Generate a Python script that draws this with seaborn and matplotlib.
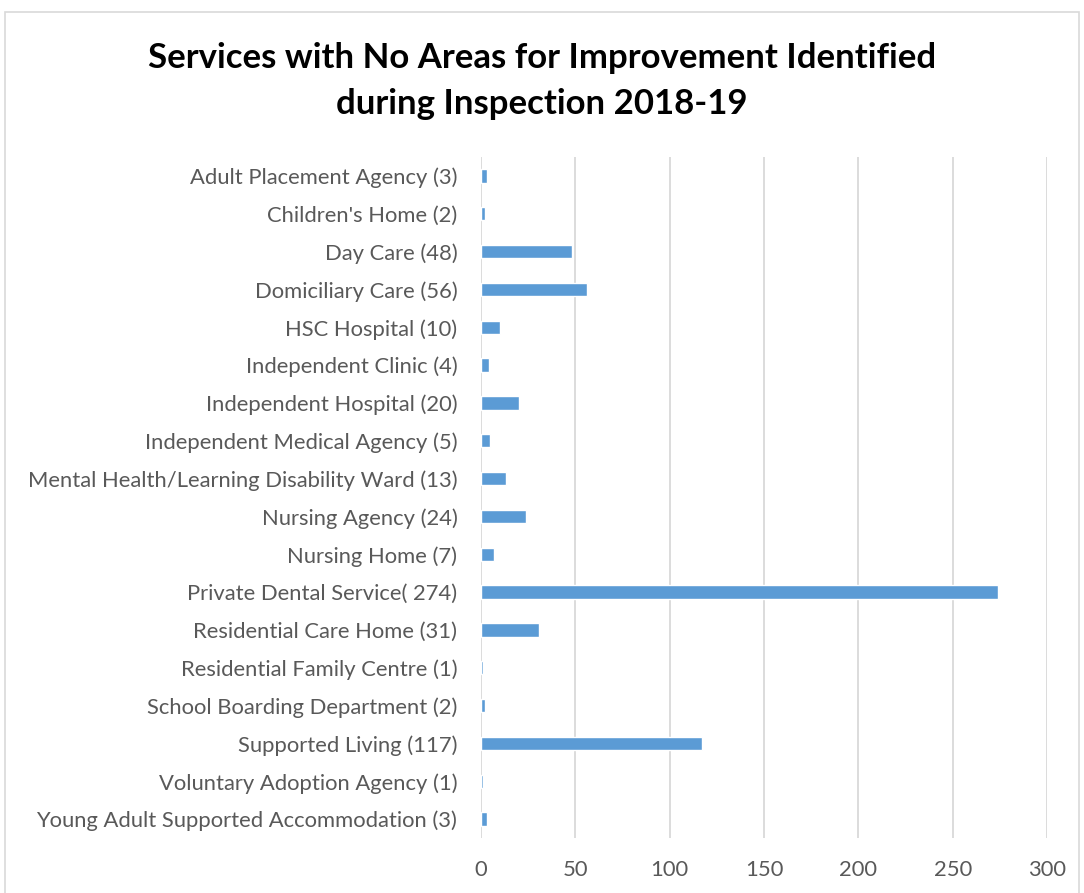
import matplotlib
matplotlib.use("Agg")
import matplotlib.pyplot as plt
import seaborn as sns
import pandas as pd
from matplotlib.patches import Rectangle

categories = [
    "Adult Placement Agency (3)",
    "Children's Home (2)",
    "Day Care (48)",
    "Domiciliary Care (56)",
    "HSC Hospital (10)",
    "Independent Clinic (4)",
    "Independent Hospital (20)",
    "Independent Medical Agency (5)",
    "Mental Health/Learning Disability Ward (13)",
    "Nursing Agency (24)",
    "Nursing Home (7)",
    "Private Dental Service( 274)",
    "Residential Care Home (31)",
    "Residential Family Centre (1)",
    "School Boarding Department (2)",
    "Supported Living (117)",
    "Voluntary Adoption Agency (1)",
    "Young Adult Supported Accommodation (3)",
]
values = [3, 2, 48, 56, 10, 4, 20, 5, 13, 24, 7, 274, 31, 1, 2, 117, 1, 3]
xticks = [0, 50, 100, 150, 200, 250, 300]
title = "Services with No Areas for Improvement Identified\nduring Inspection 2018-19"

df = pd.DataFrame({"category": categories, "value": values})

sns.set_theme(style="white")
plt.rcParams["font.family"] = ["Lato", "DejaVu Sans"]

fig = plt.figure(figsize=(10.84, 8.93), dpi=100)
ax = fig.add_axes([481 / 1084, 1 - 838 / 893, (1047 - 481) / 1084, (838 - 157) / 893])

sns.barplot(data=df, x="value", y="category", orient="h", color="#5B9BD5",
            saturation=1, width=0.35, ax=ax, zorder=3)

ax.set_xlim(0, 300)
ax.set_ylim(17.5, -0.5)
ax.set_xticks(xticks)
ax.set_xticklabels([str(t) for t in xticks])
ax.grid(axis="x", color="#D9D9D9", linewidth=1.3, zorder=0)
ax.grid(axis="y", visible=False)
for s in ax.spines.values():
    s.set_visible(False)
ax.set_xlabel("")
ax.set_ylabel("")
ax.tick_params(axis="y", length=0, pad=17, labelsize=15.8, labelcolor="#595959")
ax.tick_params(axis="x", length=0, pad=16, labelsize=15.8, labelcolor="#595959")

fig.text(0.5, 1 - 81 / 893, title, ha="center", va="center", fontsize=25,
         fontweight="bold", color="black", linespacing=1.55)

fig.patches.append(Rectangle((5 / 1084, -0.01), (1079 - 5) / 1084, 1 - 12 / 893 + 0.01,
                             transform=fig.transFigure, fill=False,
                             edgecolor="#D9D9D9", linewidth=1.2))

fig.savefig("out.png", dpi=100)
